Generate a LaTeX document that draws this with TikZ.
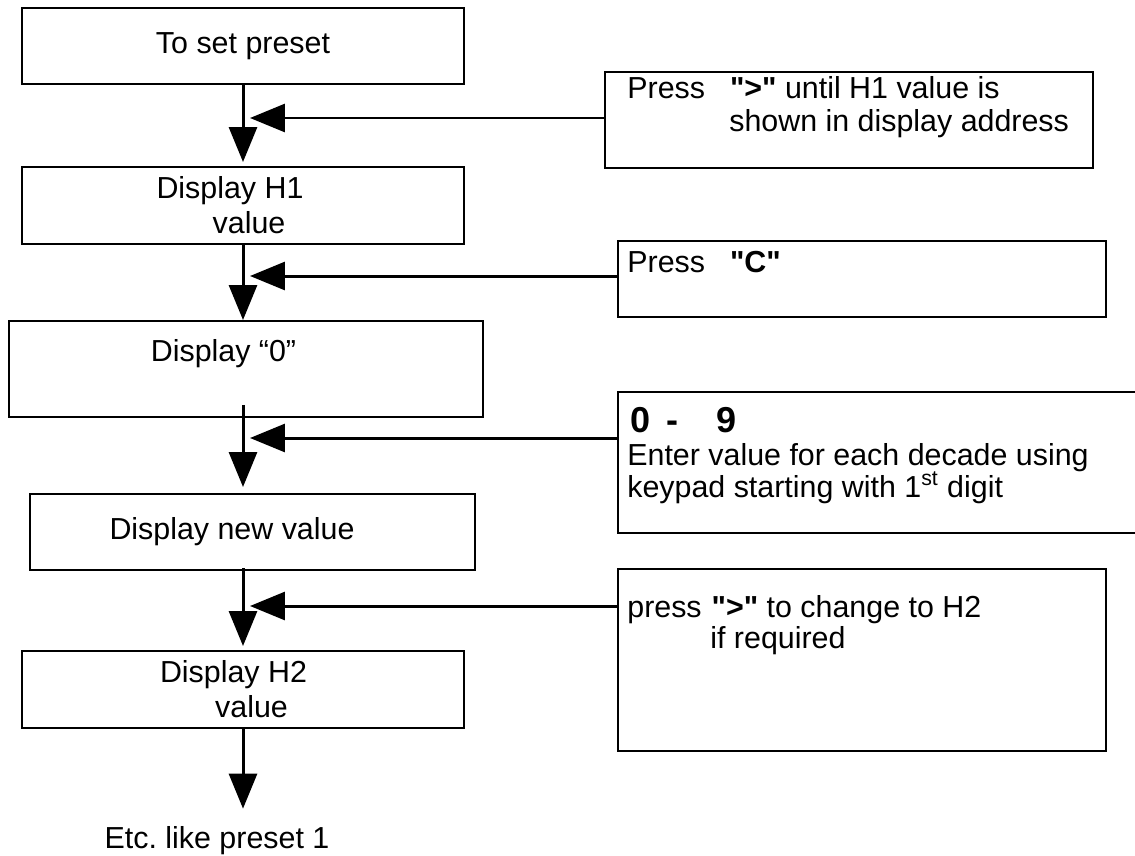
\documentclass[tikz,border=0pt]{standalone}
\usepackage{fontspec}
\setmainfont{Liberation Sans}
\usetikzlibrary{arrows.meta}

\begin{document}
\begin{tikzpicture}[x=0.02cm, y=-0.02cm,
    every node/.style={font=\fontsize{17.3}{19.92}\selectfont},
    box/.style={draw, rectangle, line width=0.04cm, inner sep=0pt, align=center},
    txt/.style={inner sep=0pt, anchor=base west},
    flow/.style={-{Triangle[length=0.7cm,width=0.56cm]}, line width=0.06cm}]
            \useasboundingbox (0,0) rectangle (1135,855);
            % preset steps
            \node[box, minimum width=8.84cm, minimum height=1.52cm] (start) at (243,46) {To set preset};
            \node[box, minimum width=8.84cm, minimum height=1.54cm] (showh1) at (243,205.5) {Display H1\hspace*{0.52cm}\\\hspace*{0.24cm}value};
            \node[box, minimum width=9.48cm, minimum height=1.92cm] (zero) at (246,369) {};
            \node[txt, anchor=base] (zerotxt) at (223.5,361) {Display “0”};
            \node[box, minimum width=8.9cm, minimum height=1.52cm] (newval) at (252.5,532) {Display new value\hspace*{0.82cm}};
            \node[box, minimum width=8.84cm, minimum height=1.54cm] (showh2) at (243,689.5) {Display H2\hspace*{0.38cm}\\\hspace*{0.34cm}value};
            \node[txt, anchor=base] (etc) at (217,848) {Etc.\ like preset 1};

            % key presses
            \node[box, minimum width=9.76cm, minimum height=1.92cm] (keynext) at (849,120) {};
            \node[txt] (keynexta) at (627,98) {Press\hspace{0.5cm}\textbf{\textquotedbl>\textquotedbl} until H1 value is};
            \node[txt] (keynextb) at (729,132) {shown in display address};
            \node[box, minimum width=9.76cm, minimum height=1.52cm] (keyc) at (862,279) {};
            \node[txt] (keyctxt) at (627,272) {Press\hspace{0.5cm}\textbf{\textquotedbl C\textquotedbl}};
            \node[box, minimum width=10.64cm, minimum height=2.82cm] (keydig) at (884,462.5) {};
            \node[txt, font=\bfseries\fontsize{20.5}{24}\selectfont] (digits) at (630,432) {0\hspace{0.33cm}-\hspace{0.76cm}9};
            \node[txt] (diga) at (627,465) {Enter value for each decade using};
            \node[txt] (digb) at (627,497) {keypad starting with 1\textsuperscript{st} digit};
            \node[box, minimum width=9.76cm, minimum height=3.66cm] (keyh2) at (862,660) {};
            \node[txt] (keyh2a) at (627,617) {press\hspace{0.2cm}\textbf{\textquotedbl>\textquotedbl} to change to H2};
            \node[txt] (keyh2b) at (710,648) {if required};

            % main flow
            \draw[flow, shorten >=0.08cm] (start.south) -- (showh1.north);
            \draw[flow] (showh1.south) -- (zero.north -| showh1.south);
            \draw[flow, shorten <=-0.26cm, shorten >=0.12cm] (zero.south -| start.south) -- (newval.north -| start.south);
            \draw[flow, shorten <=-0.06cm, shorten >=0.08cm] (newval.south -| start.south) -- (showh2.north);
            \draw[flow, shorten >=0.34cm] (showh2.south) -- (etc.north -| showh2.south);

            % key inputs joining the flow
            \coordinate (in1) at (250,118);
            \coordinate (in2) at (250,276);
            \coordinate (in3) at (250,438);
            \coordinate (in4) at (250,606);
            \draw[flow] (keynext.west |- in1) -- (in1);
            \draw[flow] (keyc.west |- in2) -- (in2);
            \draw[flow] (keydig.west |- in3) -- (in3);
            \draw[flow] (keyh2.west |- in4) -- (in4);
        \end{tikzpicture}
\end{document}
